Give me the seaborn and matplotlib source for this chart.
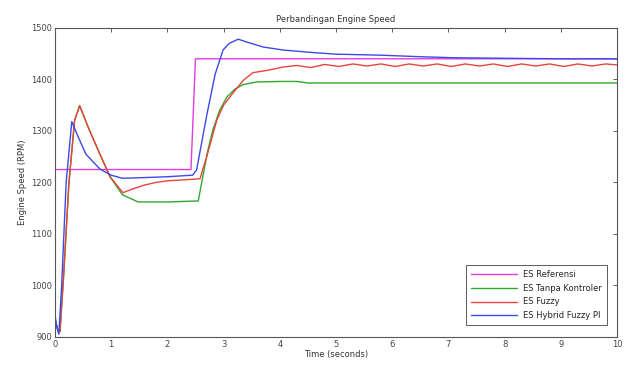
import numpy as np
import pandas as pd
import seaborn as sns
import matplotlib.pyplot as plt

# data
t_ref = [0, 2.42, 2.50, 10]
es_ref = [1225, 1225, 1440, 1440]

t_tanpa = [0, 0.05, 0.09, 0.15, 0.25, 0.35, 0.44, 0.6, 0.8, 0.98, 1.2, 1.48, 2.0, 2.55,
           2.63, 2.72, 2.81, 2.93, 3.06, 3.2, 3.35, 3.59, 4.0, 4.3, 4.5, 6, 8, 10]
es_tanpa = [935, 915, 910, 1010, 1200, 1320, 1349, 1305, 1255, 1211, 1176, 1162, 1162, 1164,
            1211, 1262, 1302, 1340, 1366, 1381, 1390, 1395, 1396, 1396, 1393, 1393, 1393, 1393]

t_fuzzy = [0, 0.05, 0.09, 0.15, 0.25, 0.35, 0.44, 0.6, 0.8, 0.98, 1.21, 1.4, 1.6, 1.8, 2.0,
           2.3, 2.58, 2.7, 2.88, 3.0, 3.17, 3.35, 3.52, 3.8, 4.06, 4.3, 4.55, 4.8, 5.05,
           5.3, 5.55, 5.8, 6.05, 6.3, 6.55, 6.8, 7.05, 7.3, 7.55, 7.8, 8.05, 8.3, 8.55,
           8.8, 9.05, 9.3, 9.55, 9.8, 10]
es_fuzzy = [935, 915, 910, 1010, 1200, 1320, 1349, 1305, 1255, 1211, 1180, 1188, 1195, 1200,
            1203, 1205, 1207, 1250, 1321, 1350, 1374, 1398, 1413, 1418, 1424, 1427, 1423,
            1429, 1425, 1430, 1426, 1430, 1425, 1430, 1426, 1430, 1425, 1430, 1426, 1430,
            1425, 1430, 1426, 1430, 1425, 1430, 1426, 1430, 1428]

t_hybrid = [0, 0.03, 0.07, 0.12, 0.2, 0.3, 0.4, 0.55, 0.8, 1.0, 1.2, 1.5, 2.0, 2.45, 2.52,
            2.7, 2.85, 2.99, 3.1, 3.26, 3.4, 3.7, 4.06, 4.6, 5.0, 5.8, 6.5, 7.1, 8, 9, 10]
es_hybrid = [945, 920, 905, 1000, 1200, 1318, 1292, 1255, 1226, 1214, 1208, 1209, 1211, 1214,
             1224, 1330, 1410, 1457, 1470, 1478, 1473, 1463, 1457, 1452, 1449, 1447, 1444,
             1442, 1441, 1440, 1440]

labels = ["ES Referensi", "ES Tanpa Kontroler", "ES Fuzzy", "ES Hybrid Fuzzy PI"]
colors = ["#e03ce0", "#2fa82f", "#e8443a", "#3a4ae8"]

frames = []
for lab, tt, vv in zip(labels, [t_ref, t_tanpa, t_fuzzy, t_hybrid],
                       [es_ref, es_tanpa, es_fuzzy, es_hybrid]):
    frames.append(pd.DataFrame({"t": tt, "es": vv, "series": lab}))
df = pd.concat(frames, ignore_index=True)

sns.set_style("white")
plt.rcParams["font.family"] = ["DejaVu Sans"]

fig = plt.figure(figsize=(6.24, 3.67), dpi=100)
ax = fig.add_axes([0.088, 0.082, 0.901, 0.842])
sns.lineplot(data=df, x="t", y="es", hue="series", hue_order=labels,
             palette=colors, linewidth=1.0, sort=False, estimator=None, ax=ax)

ax.set_xlim(0, 10)
ax.set_ylim(900, 1500)
ax.set_xticks(range(0, 11))
ax.set_yticks(range(900, 1501, 100))
ax.tick_params(direction="in", top=True, right=True, length=3, width=0.6,
               labelsize=6, colors="#444444", pad=2)
for sp in ax.spines.values():
    sp.set_color("#555555")
    sp.set_linewidth(0.8)

ax.set_title("Perbandingan Engine Speed", fontsize=6, color="#333333", pad=4)
ax.set_xlabel("Time (seconds)", fontsize=6, color="#333333", labelpad=1)
ax.set_ylabel("Engine Speed (RPM)", fontsize=6, color="#333333", labelpad=3)

leg = ax.legend(loc="lower right", fontsize=6, frameon=True, fancybox=False,
                edgecolor="#333333", handlelength=5.5, borderpad=0.6,
                labelspacing=0.55, bbox_to_anchor=(0.99, 0.025))
leg.get_frame().set_linewidth(0.7)

fig.savefig("out.png", dpi=100)
